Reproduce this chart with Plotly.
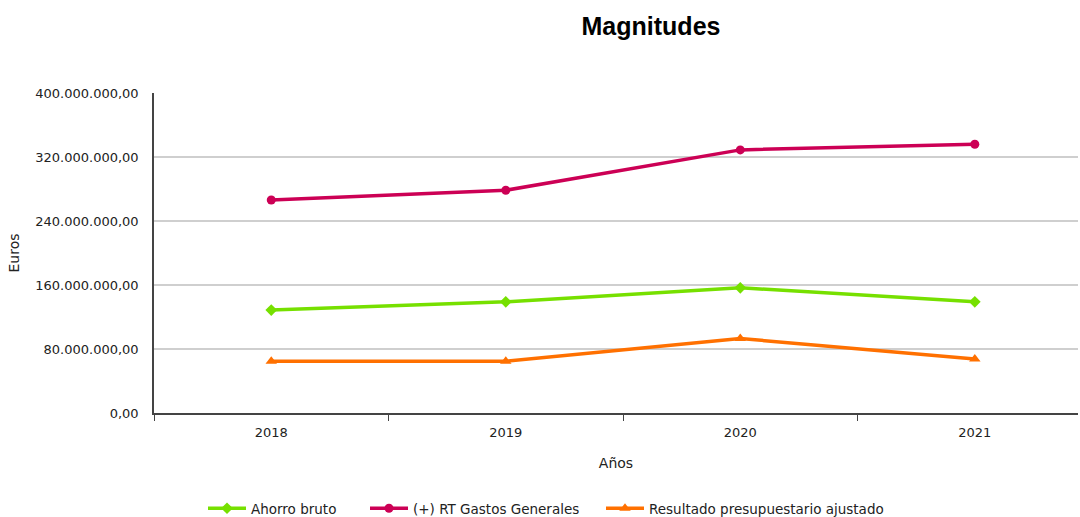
import plotly.graph_objects as go

years = ["2018", "2019", "2020", "2021"]
ahorro_bruto = [128.6e6, 139.0e6, 156.5e6, 139.0e6]
rt_gastos = [266.3e6, 278.4e6, 328.9e6, 336.0e6]
resultado = [64.7e6, 64.7e6, 93.1e6, 67.6e6]
y_ticks = [0, 80e6, 160e6, 240e6, 320e6, 400e6]

L, R, T, B = 154, 1078, 93, 413
W, H = 1080, 517
pw, ph = R - L, B - T
FONT = "DejaVu Sans, Open Sans, sans-serif"

def px(x):
    return (x - L) / pw

def py(y):
    return (B - y) / ph

fig = go.Figure()
fig.add_trace(go.Scatter(x=years, y=ahorro_bruto, name="Ahorro bruto", mode="lines+markers",
                         line=dict(color="#76E000", width=3.5),
                         marker=dict(symbol="diamond", size=9, color="#76E000"), legend="legend"))
fig.add_trace(go.Scatter(x=years, y=rt_gastos, name="(+) RT Gastos Generales", mode="lines+markers",
                         line=dict(color="#CC0055", width=3.5),
                         marker=dict(symbol="circle", size=9, color="#CC0055"), legend="legend2"))
fig.add_trace(go.Scatter(x=years, y=resultado, name="Resultado presupuestario ajustado", mode="lines+markers",
                         line=dict(color="#FF7000", width=3.5),
                         marker=dict(symbol="triangle-up", size=10, color="#FF7000"), legend="legend3"))

leg_common = dict(orientation="h", xanchor="left", yanchor="middle", font=dict(size=13.5, family=FONT),
                  itemwidth=38, bgcolor="rgba(0,0,0,0)", borderwidth=0)

fig.update_layout(
    width=W, height=H,
    paper_bgcolor="white", plot_bgcolor="white",
    separators=",.",
    font=dict(family=FONT, size=13, color="#222"),
    title=dict(text="<b>Magnitudes</b>", x=651 / W, xanchor="center", y=1 - 26 / H, yanchor="middle",
               font=dict(size=25, color="black", family="Liberation Sans, Arial, sans-serif")),
    margin=dict(l=L, r=W - R, t=T, b=H - B, autoexpand=False),
    showlegend=True,
    legend=dict(x=px(203), y=py(508.5), **leg_common),
    legend2=dict(x=px(365), y=py(508.5), **leg_common),
    legend3=dict(x=px(601), y=py(508.5), **leg_common),
    xaxis=dict(type="category", range=[-0.5, 3.44], showgrid=False, showline=True, linecolor="#444",
               linewidth=1.5, ticks="outside", tickson="boundaries", ticklen=6, tickcolor="#444",
               ticklabelstandoff=7, automargin=False,
               title=dict(text="Años", font=dict(size=14), standoff=19), tickfont=dict(size=13)),
    yaxis=dict(range=[0, 400e6], tickvals=y_ticks, tickformat=",.2f", showgrid=True, gridcolor="#CFCFCF",
               gridwidth=1.5, showline=True, linecolor="#444", linewidth=1.5, ticks="", ticklabelstandoff=11,
               zeroline=False, automargin=False,
               title=dict(text="Euros", font=dict(size=14), standoff=12), tickfont=dict(size=13)),
)

fig.write_html("out.html", config={"displayModeBar": False},
               post_script="document.body.style.margin='0';document.body.style.overflow='hidden';")
